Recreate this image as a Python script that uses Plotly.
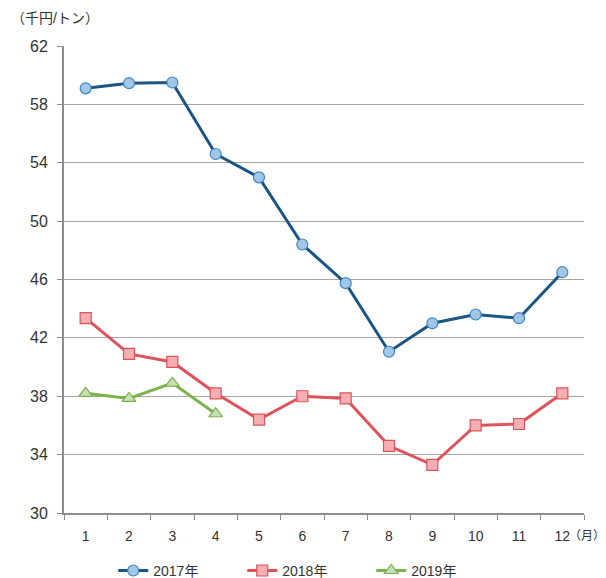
import plotly.graph_objects as go

months = ["1", "2", "3", "4", "5", "6", "7", "8", "9", "10", "11", "12"]
y2017 = [59.1, 59.45, 59.5, 54.6, 53.0, 48.4, 45.75, 41.05, 43.0, 43.6, 43.35, 46.5]
y2018 = [43.35, 40.9, 40.35, 38.2, 36.4, 38.0, 37.85, 34.6, 33.3, 36.0, 36.1, 38.2]
y2019 = [38.2, 37.85, 38.9, 36.8]
y_ticks = [30, 34, 38, 42, 46, 50, 54, 58, 62]

FONT = "Liberation Sans, Noto Sans CJK JP, sans-serif"
TXT = "#333333"

fig = go.Figure()
fig.add_trace(go.Scatter(
    x=months, y=y2017, name="2017年", mode="lines+markers",
    line=dict(color="#1b5585", width=3),
    marker=dict(symbol="circle", size=11, color="#a3c6e6", line=dict(color="#3b86c6", width=1.2)),
))
fig.add_trace(go.Scatter(
    x=months, y=y2018, name="2018年", mode="lines+markers",
    line=dict(color="#e0525a", width=3),
    marker=dict(symbol="square", size=11, color="#f5afb2", line=dict(color="#e0525a", width=1.2)),
))
fig.add_trace(go.Scatter(
    x=months[:len(y2019)], y=y2019, name="2019年", mode="lines+markers",
    line=dict(color="#7ab24e", width=3),
    marker=dict(symbol="triangle-up", size=12, color="#c6e0b3", line=dict(color="#7ab24e", width=1.2)),
))

fig.update_layout(
    width=598, height=570,
    margin=dict(l=56, r=22, t=38, b=65, autoexpand=False),
    paper_bgcolor="white", plot_bgcolor="white",
    font=dict(family=FONT, size=14, color=TXT),
    showlegend=True,
    legend=dict(orientation="h", x=0.176, xref="container", xanchor="left",
                y=-0.124, yref="paper", yanchor="middle",
                font=dict(size=14, color=TXT), traceorder="normal",
                entrywidth=84, entrywidthmode="pixels", itemwidth=30),
    annotations=[
        dict(text="（千円/トン）", xref="paper", yref="paper", x=-0.106, y=1.0,
             yshift=18, xanchor="left", yanchor="bottom", showarrow=False,
             font=dict(size=14, color=TXT)),
        dict(text="（月）", xref="paper", yref="paper", x=1.0, y=0, yshift=-23,
             xshift=-17, xanchor="left", yanchor="middle", showarrow=False,
             font=dict(size=12, color=TXT)),
    ],
)
fig.update_xaxes(
    type="category", range=[-0.5, len(months) - 0.5], autorange=False,
    showgrid=False, showline=True, linecolor="#8c8c8c", linewidth=2,
    ticks="outside", tickson="boundaries", ticklen=5, tickcolor="#8c8c8c", tickwidth=1,
    tickfont=dict(size=14, color=TXT), zeroline=False, ticklabelstandoff=9,
)
fig.update_yaxes(
    range=[30, 62], tickvals=y_ticks, showgrid=True, gridcolor="#a6a6a6", gridwidth=1.3,
    showline=True, linecolor="#8c8c8c", linewidth=2,
    ticks="outside", ticklen=5, tickcolor="#8c8c8c",
    tickfont=dict(size=16, color=TXT), zeroline=False, ticklabelstandoff=6,
)

fig.write_html("out.html")
